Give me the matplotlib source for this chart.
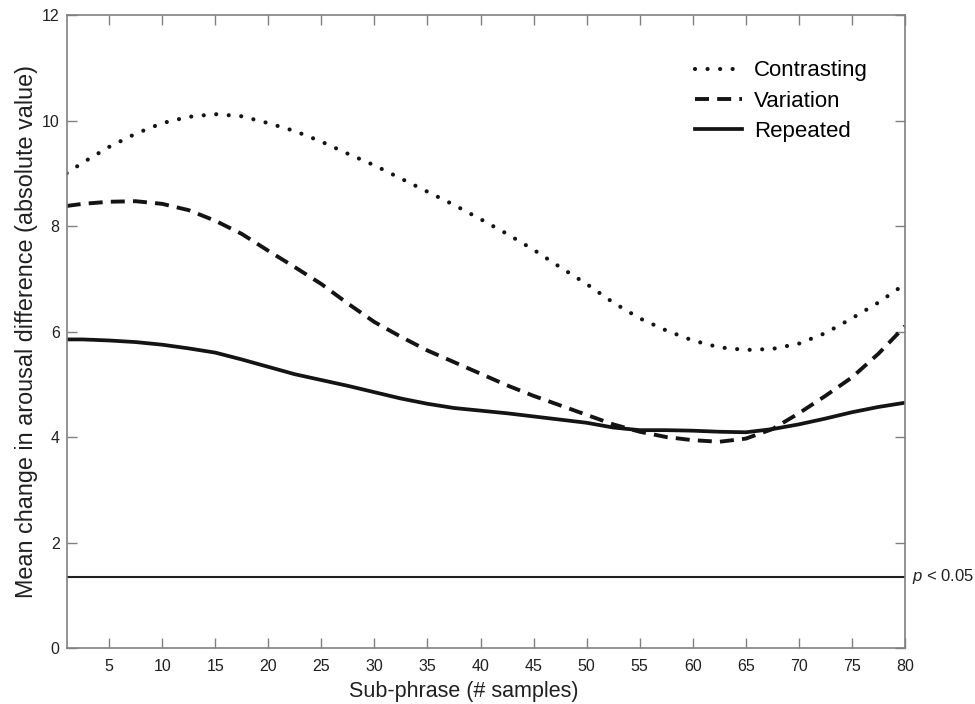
import matplotlib
matplotlib.use('Agg')
import matplotlib.pyplot as plt

plt.rcParams['font.family'] = ['Liberation Sans', 'DejaVu Sans']
plt.rcParams['mathtext.fontset'] = 'custom'
plt.rcParams['mathtext.it'] = 'Liberation Sans:italic'
plt.rcParams['mathtext.rm'] = 'Liberation Sans'

# sub-phrase length (# samples)
samples = [1, 2.5, 5, 7.5, 10, 12.5, 15, 17.5, 20, 22.5, 25, 27.5, 30, 32.5,
           35, 37.5, 40, 42.5, 45, 47.5, 50, 52.5, 55, 57.5, 60, 62.5, 65,
           67.5, 70, 72.5, 75, 77.5, 80]

contrasting = [9.00, 9.20, 9.50, 9.75, 9.95, 10.07, 10.12, 10.08, 9.95, 9.80,
               9.60, 9.37, 9.15, 8.90, 8.65, 8.40, 8.13, 7.85, 7.55, 7.22,
               6.90, 6.55, 6.25, 6.02, 5.83, 5.70, 5.65, 5.67, 5.77, 5.97,
               6.25, 6.55, 6.90]

variation = [8.38, 8.42, 8.46, 8.47, 8.42, 8.30, 8.10, 7.85, 7.53, 7.22,
             6.90, 6.53, 6.18, 5.90, 5.64, 5.42, 5.20, 4.98, 4.78, 4.60,
             4.42, 4.24, 4.10, 4.00, 3.94, 3.91, 3.97, 4.15, 4.45, 4.78,
             5.13, 5.58, 6.10]

repeated = [5.85, 5.85, 5.83, 5.80, 5.75, 5.68, 5.60, 5.47, 5.33, 5.19,
            5.08, 4.97, 4.85, 4.73, 4.63, 4.55, 4.50, 4.45, 4.39, 4.33,
            4.27, 4.18, 4.13, 4.13, 4.12, 4.10, 4.09, 4.15, 4.24, 4.35,
            4.47, 4.57, 4.65]

sig_level = 1.35

xticks = [5, 10, 15, 20, 25, 30, 35, 40, 45, 50, 55, 60, 65, 70, 75, 80]
yticks = [0, 2, 4, 6, 8, 10, 12]

ink = '#141414'

fig = plt.figure(figsize=(9.75, 7.04), dpi=100)
ax = fig.add_axes([0.0684, 0.0795, 0.8598, 0.8992])

ax.plot(samples, contrasting, color=ink, lw=3.0, linestyle=(0, (0.01, 3.0)),
        dash_capstyle='round', label='Contrasting')
ax.plot(samples, variation, color=ink, lw=2.8, linestyle=(0, (3.6, 2.1)),
        dash_capstyle='butt', label='Variation')
ax.plot(samples, repeated, color=ink, lw=2.7, label='Repeated')
ax.axhline(sig_level, color='#202020', lw=1.5)
ax.text(80.7, sig_level, '$p$ < 0.05', fontsize=12, va='center', ha='left',
        color='#202020')

ax.set_xlim(1, 80)
ax.set_ylim(0, 12)
ax.set_xticks(xticks)
ax.set_yticks(yticks)
ax.tick_params(direction='in', length=7, width=1, color='#808080',
               top=True, right=True, labelsize=11.5, labelcolor='#202020')
ax.tick_params(axis='x', pad=8)
ax.tick_params(axis='y', pad=5)
for s in ax.spines.values():
    s.set_color('#808080')
    s.set_linewidth(1.2)

ax.set_xlabel('Sub-phrase (# samples)', fontsize=15.5, color='#202020', labelpad=2)
ax.xaxis.set_label_coords(0.474, -0.052)
ax.set_ylabel('Mean change in arousal difference (absolute value)', fontsize=16.8,
              color='#202020', labelpad=3)

ax.legend(loc='upper right', bbox_to_anchor=(0.98, 0.96), frameon=False,
          fontsize=16, handlelength=2.1, handletextpad=0.55, labelspacing=0.42)

fig.savefig('out.png', dpi=100)
